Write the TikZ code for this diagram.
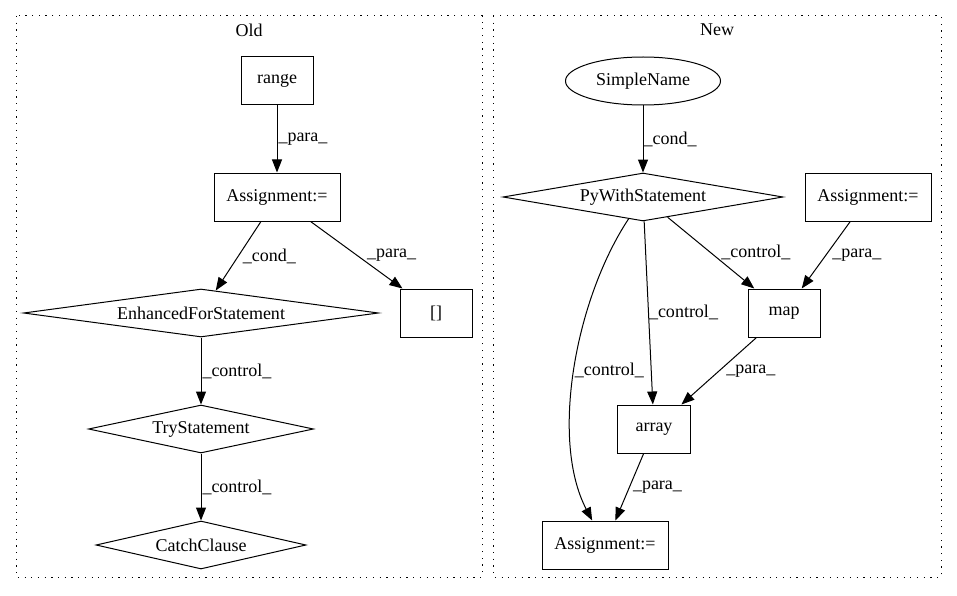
\documentclass[tikz,border=0pt]{standalone}
\usepackage{fontspec}
\setmainfont{Liberation Serif}
\usetikzlibrary{shapes.geometric, arrows.meta}
\tikzstyle{process} = [rectangle, minimum width=72pt, minimum height=48pt, inner sep=0pt, text centered, draw=black, line width=1pt]
\tikzstyle{decision} = [diamond, aspect=6, minimum height=48pt, inner sep=0pt, text centered, draw=black, line width=1pt]
\tikzstyle{terminal} = [ellipse, minimum width=155pt, minimum height=48pt, inner sep=0pt, text centered, draw=black, line width=1pt]
\tikzstyle{arrow} = [line width=1pt, -{Triangle[length=13pt,width=10pt]}]
\tikzstyle{lbl} = [inner sep=0pt, anchor=west]
\tikzstyle{cluster} = [line width=1pt, dash pattern=on 1.2pt off 5.5pt]

\begin{document}
\begin{tikzpicture}[x=1pt, y=-1pt, node distance=116pt, every node/.style={font=\fontsize{18pt}{21pt}\selectfont}]
\useasboundingbox (0,0) rectangle (957,596);

% Clusters
\draw [cluster] (16,16) rectangle (482,577);
\draw [cluster] (493,16) rectangle (941,577);
\node (oldlbl) at (249,30) {Old};
\node (newlbl) at (717,30) {New};

% Nodes (old)
\node (range) [process] at (277,81) {range};
\node (asgold) [process, minimum width=126pt, below of=range] {Assignment:=};
\node (efs) [decision, minimum width=355pt] at (201,313) {EnhancedForStatement};
\node (idx) [process] at (436,313) {[]};
\node (try) [decision, minimum width=225pt, below of=efs] {TryStatement};
\node (catch) [decision, minimum width=210pt, below of=try] {CatchClause};

% Nodes (new)
\node (simple) [terminal] at (643,81) {SimpleName};
\node (pyw) [decision, minimum width=280pt, below of=simple] {PyWithStatement};
\node (asgtop) [process, minimum width=126pt] at (868,197) {Assignment:=};
\node (map) [process] at (784,313) {map};
\node (array) [process, minimum width=73pt] at (654,429) {array};
\node (asgbot) [process, minimum width=126pt] at (605,545) {Assignment:=};

% Arrows (old)
\draw [arrow] (range) -- node[lbl, xshift=1pt] {\_para\_} (asgold);
\draw [arrow] (asgold) -- node[lbl, xshift=4pt] {\_cond\_} (efs);
\draw [arrow] (asgold) -- node[lbl, xshift=10pt] {\_para\_} (idx);
\draw [arrow] (efs) -- node[lbl, xshift=1pt] {\_control\_} (try);
\draw [arrow] (try) -- node[lbl, xshift=1pt] {\_control\_} (catch);

% Arrows (new)
\draw [arrow] (simple) -- node[lbl] {\_cond\_} (pyw);
\draw [arrow] (pyw) -- node[lbl, xshift=10pt] {\_control\_} (map);
\draw [arrow] (asgtop) -- node[lbl, xshift=6pt] {\_para\_} (map);
\draw [arrow] (pyw) -- node[lbl] {\_control\_} (array);
\draw [arrow] (pyw) .. controls (575,300) and (550,440) .. node[lbl] {\_control\_} (asgbot);
\draw [arrow] (map) -- node[lbl, xshift=7pt] {\_para\_} (array);
\draw [arrow] (array) -- node[lbl, xshift=3pt] {\_para\_} (asgbot);

\end{tikzpicture}
\end{document}
